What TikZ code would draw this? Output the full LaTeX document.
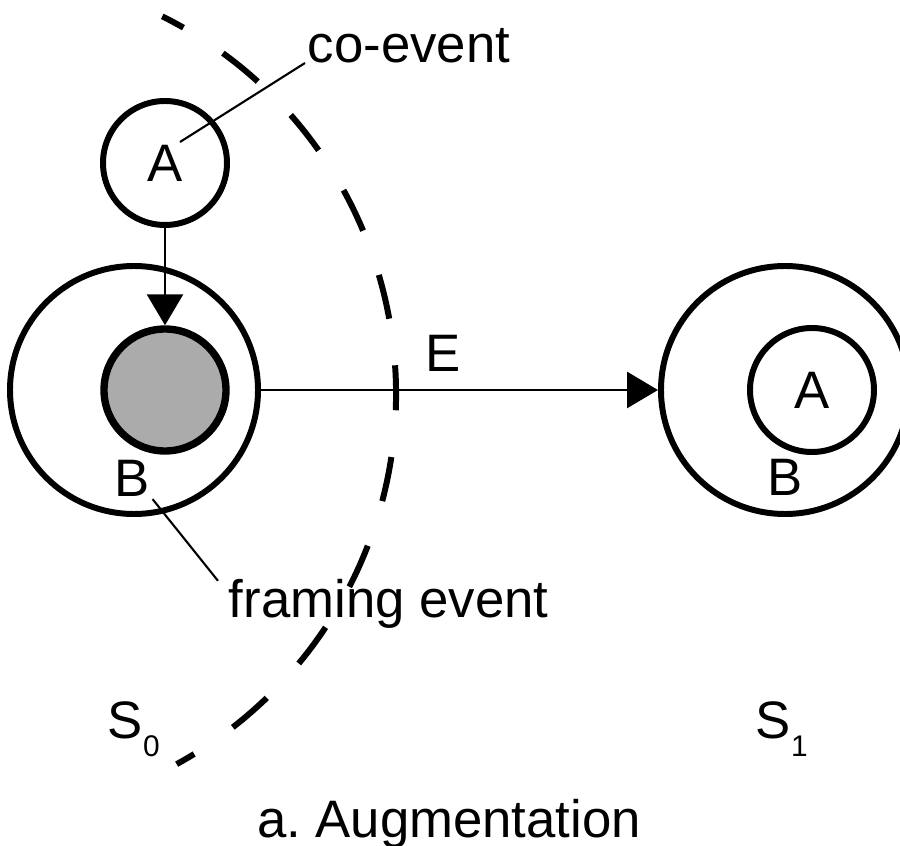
\documentclass[tikz,border=0pt]{standalone}
\usepackage{fontspec}
\setmainfont{Liberation Sans}
\usetikzlibrary{arrows.meta}
\definecolor{coreGray}{gray}{0.67}
\newcommand{\stsub}[1]{S\raisebox{-5.4pt}{\fontsize{8.5}{10}\selectfont #1}}

\begin{document}
\begin{tikzpicture}[line width=1.7pt, >={Triangle[length=8.8pt,width=10.2pt]},
  font=\fontsize{15}{18}\selectfont,
  evt/.style={circle,draw,inner sep=0pt,minimum size=#1},
  lbl/.style={inner sep=0pt},
  conn/.style={line width=0.85pt},
  lead/.style={line width=0.6pt}]
  \clip (0,0) rectangle (9,8.45);
  % state S0
  \node[evt=2.48cm] (B0) at (1.34,4.55) {};
  \node[evt=1.22cm, fill=coreGray, line width=2.1pt] (core) at (1.65,4.55) {};
  \node[lbl] (B0lab) at (1.32,3.67) {B};
  \node[evt=1.24cm] (A0) at (1.65,6.82) {A};
  % state S1
  \node[evt=2.48cm] (B1) at (7.85,4.55) {};
  \node[evt=1.24cm] (A1) at (8.12,4.55) {A};
  \node[lbl] (B1lab) at (7.85,3.68) {B};
  % arrows
  \draw[conn,->] (A0) -- (core);
  \draw[conn,->] (B0) -- (B1);
  \node[lbl] (E) at (4.43,4.92) {E};
  % boundary of S0
  \draw[dash pattern=on 0.45cm off 0.47cm, dash phase=0.21cm]
    ([shift={(63.5:4.22)}]-0.26,4.51) arc[start angle=63.5, end angle=-61.3, radius=4.22];
  % labels
  \node[lbl, anchor=base west] (coev) at (3.05,7.82) {co-event};
  \coordinate (coA) at (1.80,7.03);
  \draw[lead] (coA) -- (coev.base west);
  \node[lbl, anchor=base west] (frame) at (2.26,2.28) {framing event};
  \draw[lead] (B0lab.south east) -- ([xshift=-0.08cm,yshift=-0.05cm]frame.north west);
  \node[lbl, anchor=base west] (S0) at (1.05,1.07) {\stsub{0}};
  \node[lbl, anchor=base west] (S1) at (7.53,1.07) {\stsub{1}};
  \node[lbl, anchor=base] (cap) at (4.49,0.08) {a.\ Augmentation};
\end{tikzpicture}
\end{document}
